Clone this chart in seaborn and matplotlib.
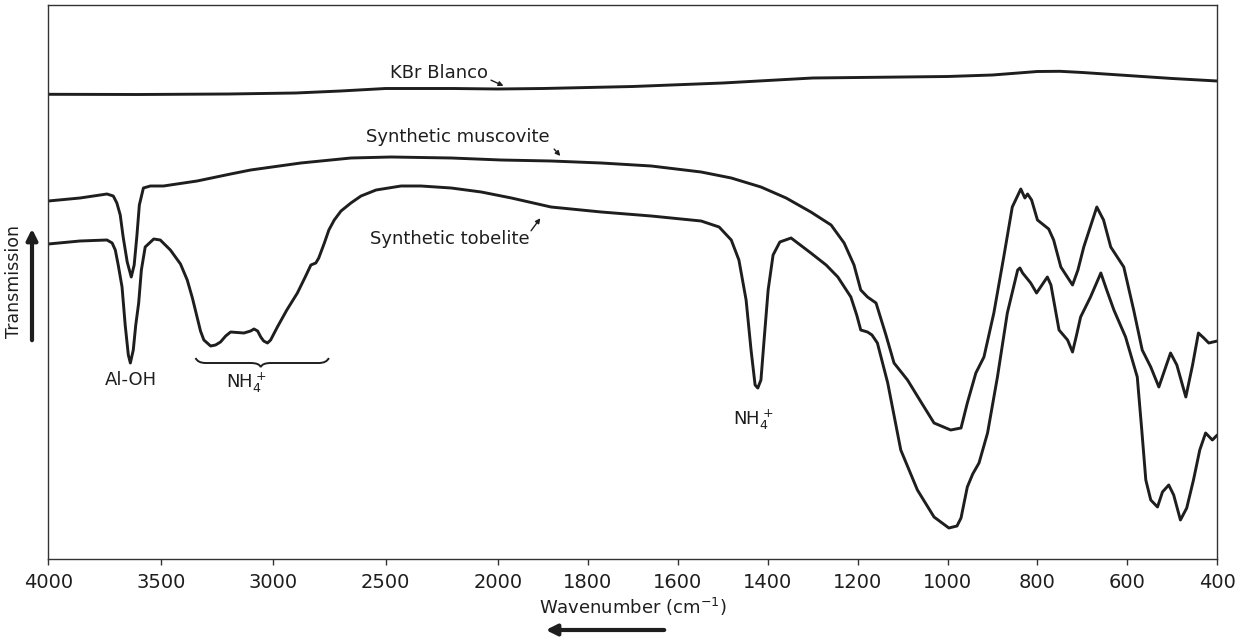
import numpy as np
import pandas as pd
import matplotlib
matplotlib.use("Agg")
import matplotlib.pyplot as plt
import seaborn as sns
from matplotlib.path import Path
from matplotlib.patches import PathPatch

# ---------------- data (wavenumber in cm-1, transmission in arbitrary units) ----------------
kbr_wn = [4000, 3600, 3200, 2900, 2700, 2500, 2200, 2000, 1900, 1700, 1500, 1300, 1200,
          1000, 900, 800, 750, 700, 600, 500, 400]
kbr_t = [464.7, 464.5, 465, 466, 468, 470.5, 470.5, 470, 470.5, 472.5, 476, 481, 481.5,
         482.5, 484, 487.5, 487.7, 486.5, 483.5, 480.5, 478]

musc_wn = [4000, 3859, 3739, 3711, 3695, 3680, 3667, 3649, 3631, 3618, 3606, 3595, 3577, 3546,
           3488, 3338, 3189, 3100, 2877, 2654, 2475, 2207, 1993, 1882, 1770, 1659, 1548, 1481,
           1415, 1359, 1304, 1259, 1230, 1208, 1193, 1178, 1159, 1137, 1119, 1089, 1059, 1030,
           993, 970, 956, 937, 919, 897, 875, 856, 837, 828, 822, 813, 800, 775, 764, 748, 722,
           710, 697, 668, 653, 637, 608, 586, 567, 548, 530, 517, 504, 490, 470, 455, 442, 430,
           419, 400]
musc_t = [358, 361, 365, 363, 356, 344, 322, 297, 282, 294, 323, 354, 371, 373,
          373, 378, 385, 389, 396, 401, 402, 401, 399, 398, 396, 393, 387, 381,
          372, 361, 347, 334, 316, 294, 269, 262, 256, 224, 196, 179, 157, 136,
          129, 131, 156, 186, 202, 246, 302, 352, 370, 361, 365, 359, 339, 330, 319, 292, 274,
          289, 312, 352, 339, 312, 292, 249, 209, 192, 172, 189, 206, 194, 162, 194, 226, 221,
          216, 218]

tob_wn = [4000, 3859, 3739, 3716, 3702, 3689, 3672, 3658, 3644, 3635, 3622, 3611, 3598, 3586,
          3569, 3531, 3502, 3457, 3412, 3382, 3359, 3338, 3323, 3308, 3278, 3256, 3234, 3211,
          3189, 3130, 3100, 3085, 3069, 3055, 3042, 3025, 3011, 2981, 2939, 2892, 2855, 2832,
          2810, 2797, 2772, 2752, 2728, 2698, 2654, 2609, 2542, 2431, 2342, 2208, 2074, 1970,
          1882, 1770, 1659, 1548, 1508, 1481, 1464, 1448, 1437, 1428, 1422, 1415, 1408, 1399,
          1388, 1373, 1348, 1304, 1270, 1244, 1215, 1202, 1193, 1178, 1168, 1156, 1133, 1104,
          1067, 1030, 997, 979, 970, 956, 944, 930, 911, 889, 867, 844, 839, 833, 815, 802, 790,
          778, 770, 752, 733, 722, 713, 704, 682, 659, 646, 630, 604, 578, 568, 559, 548, 533,
          522, 508, 497, 482, 468, 453, 439, 426, 411, 400]
tob_t = [315, 318, 319, 316, 309, 294, 272, 234, 204, 196, 209, 234, 256, 289,
         312, 320, 319, 309, 295, 279, 261, 242, 228, 219, 213, 214, 217, 223,
         227, 226, 228, 230, 228, 222, 218, 216, 219, 232, 249, 266, 283, 294,
         296, 301, 316, 329, 339, 348, 356, 363, 369, 373, 373, 371, 367, 361,
         352, 347, 343, 338, 332, 319, 299, 259, 209, 174, 171, 179, 219, 269,
         304, 317, 321, 306, 294, 282, 262, 244, 229, 227, 224, 216, 176, 109,
         69, 42, 31, 33, 41, 72, 85, 96, 126, 182, 246, 289, 291, 286, 276, 266, 274,
         282, 274, 229, 219, 207, 224, 242, 262, 286, 269, 249, 222, 182, 129, 79, 59, 52,
         67, 74, 64, 39, 51, 79, 109, 126, 119, 124]

tick_values = [4000, 3500, 3000, 2500, 2000, 1800, 1600, 1400, 1200, 1000, 800, 600, 400]

# ---------------- styling ----------------
sns.set_style("ticks")
plt.rcParams["font.family"] = ["DejaVu Sans"]
plt.rcParams["mathtext.fontset"] = "dejavusans"
INK = "#1e1e1e"

fig = plt.figure(figsize=(12.48, 6.38), dpi=100)
L, R, T, B = 48.3, 1217.3, 5, 559
ax = fig.add_axes([L / 1248, 1 - B / 638, (R - L) / 1248, (B - T) / 638])


# the spectrometer chart changes scale at 2000 cm-1 (half the spacing above it)
def fwd(w):
    w = np.asarray(w, dtype=float)
    return np.where(w >= 2000, w / 2.0, w - 1000.0)


def inv(u):
    u = np.asarray(u, dtype=float)
    return np.where(u >= 1000, u * 2.0, u + 1000.0)


ax.set_xscale("function", functions=(fwd, inv))

df = pd.concat([
    pd.DataFrame({"wn": kbr_wn, "T": kbr_t, "sample": "KBr Blanco"}),
    pd.DataFrame({"wn": musc_wn, "T": musc_t, "sample": "Synthetic muscovite"}),
    pd.DataFrame({"wn": tob_wn, "T": tob_t, "sample": "Synthetic tobelite"}),
], ignore_index=True)

for name, sub in df.groupby("sample", sort=False):
    sns.lineplot(data=sub, x="wn", y="T", ax=ax, sort=False, estimator=None,
                 color=INK, linewidth=2.1, legend=False,
                 solid_joinstyle="round", solid_capstyle="round")

ax.set_xlim(4000, 400)
ax.set_ylim(0, 554)
ax.set_xticks(tick_values)
ax.set_xticklabels([str(v) for v in tick_values])
ax.xaxis.set_minor_locator(matplotlib.ticker.NullLocator())
ax.set_yticks([])
ax.tick_params(axis="x", direction="out", length=4, width=1, color="#333333",
               labelsize=14, pad=6, labelcolor=INK)
for s in ax.spines.values():
    s.set_visible(True)
    s.set_linewidth(1.0)
    s.set_color("#333333")

ax.set_xlabel("Wavenumber (cm$^{-1}$)", fontsize=13, labelpad=3, color=INK)
ax.set_ylabel("Transmission", fontsize=12.5, labelpad=18, color=INK)

# ---------------- annotations ----------------
tfs = 13
ax.text(2042, 486, "KBr Blanco", fontsize=tfs, ha="right", va="center", color=INK)
ax.annotate("", xy=(1982, 472), xytext=(2042, 480),
            arrowprops=dict(arrowstyle="-|>", lw=1.0, color=INK, mutation_scale=7))
ax.text(1884, 422, "Synthetic muscovite", fontsize=tfs, ha="right", va="center", color=INK)
ax.annotate("", xy=(1857, 401), xytext=(1879, 412),
            arrowprops=dict(arrowstyle="-|>", lw=1.0, color=INK, mutation_scale=7))
ax.text(1930, 320, "Synthetic tobelite", fontsize=tfs, ha="right", va="center", color=INK)
ax.annotate("", xy=(1902, 343), xytext=(1930, 326),
            arrowprops=dict(arrowstyle="-|>", lw=1.0, color=INK, mutation_scale=7))

ax.text(3631, 179, "Al-OH", fontsize=tfs, ha="center", va="center", color=INK)
ax.text(3118, 176, r"NH$_4^+$", fontsize=tfs, ha="center", va="center", color=INK)
ax.text(1433, 139, r"NH$_4^+$", fontsize=tfs, ha="center", va="center", color=INK)

# curly brace under the NH4+ band group
verts = [(3345, 201), (3335, 196), (3300, 196), (3100, 196), (3062, 196), (3055, 192),
         (3048, 196), (3010, 196), (2797, 196), (2762, 196), (2752, 201)]
codes = [Path.MOVETO, Path.CURVE3, Path.CURVE3, Path.LINETO, Path.CURVE3, Path.CURVE3,
         Path.CURVE3, Path.CURVE3, Path.LINETO, Path.CURVE3, Path.CURVE3]
ax.add_patch(PathPatch(Path(verts, codes), fill=False, lw=1.4, edgecolor=INK))

# direction arrows
fig.add_artist(matplotlib.patches.FancyArrowPatch(
    (32 / 1248, 1 - 343 / 638), (32 / 1248, 1 - 226 / 638), transform=fig.transFigure,
    arrowstyle="-|>", mutation_scale=16, lw=3.0, color=INK))
fig.add_artist(matplotlib.patches.FancyArrowPatch(
    (667 / 1248, 1 - 630 / 638), (543 / 1248, 1 - 630 / 638), transform=fig.transFigure,
    arrowstyle="-|>", mutation_scale=16, lw=3.0, color=INK))

fig.savefig("out.png", dpi=100)
